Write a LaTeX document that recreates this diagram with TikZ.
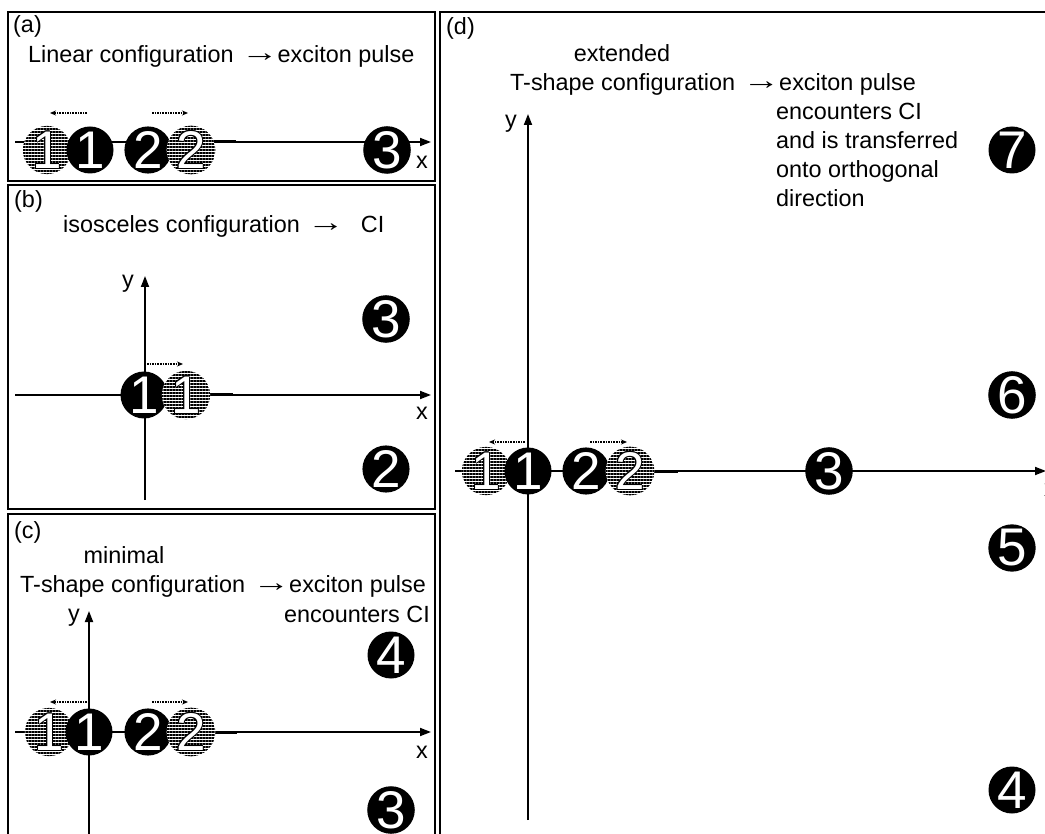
\documentclass[tikz,border=0pt]{standalone}
\usepackage{fontspec}
\usepackage{graphicx}
\setmainfont{Liberation Sans}
\usetikzlibrary{arrows.meta,patterns.meta}
\newcommand\olnum[1]{%
\makebox[0pt][l]{\kern-0.9pt\textcolor{black}{#1}}%
\makebox[0pt][l]{\kern0.9pt\textcolor{black}{#1}}%
\makebox[0pt][l]{\raisebox{0.9pt}{\textcolor{black}{#1}}}%
\makebox[0pt][l]{\raisebox{-0.9pt}{\textcolor{black}{#1}}}%
\makebox[0pt][l]{\kern0.65pt\raisebox{0.65pt}{\textcolor{black}{#1}}}%
\makebox[0pt][l]{\kern-0.65pt\raisebox{0.65pt}{\textcolor{black}{#1}}}%
\makebox[0pt][l]{\kern0.65pt\raisebox{-0.65pt}{\textcolor{black}{#1}}}%
\makebox[0pt][l]{\kern-0.65pt\raisebox{-0.65pt}{\textcolor{black}{#1}}}%
\textcolor{white}{#1}}
\newcommand\rarr{\kern14pt\makebox[24pt]{\raisebox{1pt}{\scalebox{1.6}[1.15]{→}}}\kern6pt}
\begin{document}
\begin{tikzpicture}[x=1pt,y=-1pt,
  frame/.style={draw=black,line width=1.8pt},
  axis/.style={line width=1.8pt,-{Triangle[length=11pt,width=8pt]}},
  stub/.style={line width=3pt},
  bead/.style={circle,fill=black,minimum size=47pt,inner sep=0pt,text=white,font=\fontsize{53}{53}\selectfont},
  hbead/.style={circle,preaction={fill=white},pattern={Lines[angle=0,distance=3pt,line width=1.6pt]},minimum size=47pt,inner sep=0pt,font=\fontsize{53}{53}\selectfont},
  lbl/.style={inner sep=0pt,font=\fontsize{23.4}{29}\selectfont},
  move/.style={line width=1.1pt,dash pattern=on 1.6pt off 1pt,-{Stealth[length=6pt,width=5pt]}}
]
\useasboundingbox (0,0) rectangle (1045,834);
\fill[white] (0,0) rectangle (1045,834);
% frames
\draw[frame] (8,12) rectangle (435,181);
\draw[frame] (8,185) rectangle (435,509);
\draw[frame] (8,514) rectangle (435,860);
\draw[frame] (440,12) rectangle (1070,860);

% ---------- (a)
\coordinate (ax0) at (15,142); \coordinate (ax1) at (431,142);
\draw[axis] (ax0) -- (ax1);
\coordinate (as0) at (213,142); \coordinate (as1) at (236,142);
\draw[stub] (as0) -- (as1);
\node[hbead] (ah1) at (47,150) {\olnum{1}};
\node[bead] (ab1) at (90,150) {1};
\node[bead] (ab2) at (148,150) {2};
\node[hbead] (ah2) at (191,150) {\olnum{2}};
\node[bead] (ab3) at (387,150) {3};
\node[lbl] (axl) at (422,162) {x};
\coordinate (am1s) at (87,113); \coordinate (am1e) at (50,113);
\coordinate (am2s) at (152,113); \coordinate (am2e) at (188,113);
\draw[move] (am1s) -- (am1e);
\draw[move] (am2s) -- (am2e);
\node[lbl,anchor=base west] (atag) at (13,33) {(a)};
\node[lbl,anchor=base west] (atxt) at (28,63) {Linear configuration\rarr exciton pulse};

% ---------- (b)
\coordinate (bx0) at (15,395); \coordinate (bx1) at (431,395);
\coordinate (by0) at (145,500); \coordinate (by1) at (145,276);
\draw[axis] (bx0) -- (bx1);
\draw[axis] (by0) -- (by1);
\coordinate (bs0) at (208,395); \coordinate (bs1) at (233,395);
\draw[stub] (bs0) -- (bs1);
\node[bead] (bb1) at (144,395) {1};
\node[hbead] (bh1) at (186,395) {\olnum{1}};
\node[bead] (bb3) at (386,319) {3};
\node[bead] (bb2) at (386,469) {2};
\node[lbl] (bxl) at (422,413) {x};
\node[lbl] (byl) at (128,284) {y};
\coordinate (bms) at (147,364); \coordinate (bme) at (183,364);
\draw[move] (bms) -- (bme);
\node[lbl,anchor=base west] (btag) at (14,208) {(b)};
\node[lbl,anchor=base west] (btxt) at (63,233) {isosceles configuration\rarr\kern17pt CI};

% ---------- (c)
\coordinate (cx0) at (15,732); \coordinate (cx1) at (431,732);
\coordinate (cy0) at (89,840); \coordinate (cy1) at (89,611);
\draw[axis] (cx0) -- (cx1);
\draw[axis] (cy0) -- (cy1);
\coordinate (cs0) at (213,732); \coordinate (cs1) at (237,732);
\draw[stub] (cs0) -- (cs1);
\node[hbead] (ch1) at (49,732) {\olnum{1}};
\node[bead] (cb1) at (89,732) {1};
\node[bead] (cb2) at (148,732) {2};
\node[hbead] (ch2) at (191,732) {\olnum{2}};
\node[bead] (cb4) at (391,655) {4};
\node[bead] (cb3) at (391,810) {3};
\node[lbl] (cxl) at (422,752) {x};
\node[lbl] (cyl) at (74,618) {y};
\coordinate (cm1s) at (87,702); \coordinate (cm1e) at (50,702);
\coordinate (cm2s) at (152,702); \coordinate (cm2e) at (188,702);
\draw[move] (cm1s) -- (cm1e);
\draw[move] (cm2s) -- (cm2e);
\node[lbl,anchor=base west] (ctag) at (14,538) {(c)};
\node[lbl,anchor=base] (cmin) at (124,563) {minimal};
\node[lbl,anchor=base west] (ctxt) at (20,592) {T-shape configuration\rarr exciton pulse};
\node[lbl,anchor=base east] (cenc) at (430,622) {encounters CI};

% ---------- (d)
\coordinate (dx0) at (455,471); \coordinate (dx1) at (1046,471);
\coordinate (dy0) at (528,820); \coordinate (dy1) at (528,114);
\draw[axis] (dx0) -- (dx1);
\draw[axis] (dy0) -- (dy1);
\coordinate (ds0) at (653,471); \coordinate (ds1) at (678,471);
\draw[stub] (ds0) -- (ds1);
\node[hbead] (dh1) at (486,471) {\olnum{1}};
\node[bead] (db1) at (528,471) {1};
\node[bead] (db2) at (586,471) {2};
\node[hbead] (dh2) at (630,471) {\olnum{2}};
\node[bead] (db3) at (829,471) {3};
\node[bead] (db7) at (1012,150) {7};
\node[bead] (db6) at (1012,395) {6};
\node[bead] (db5) at (1012,548) {5};
\node[bead] (db4) at (1012,790) {4};
\node[lbl] (dxl) at (1050,490) {x};
\node[lbl] (dyl) at (511,124) {y};
\coordinate (dm1s) at (525,442); \coordinate (dm1e) at (489,442);
\coordinate (dm2s) at (590,442); \coordinate (dm2e) at (627,442);
\draw[move] (dm1s) -- (dm1e);
\draw[move] (dm2s) -- (dm2e);
\node[lbl,anchor=base west] (dtag) at (446,35) {(d)};
\node[lbl,anchor=base] (dext) at (622,62) {extended};
\node[lbl,anchor=base west] (dtxt) at (510,91) {T-shape configuration\rarr exciton pulse};
\node[lbl,anchor=base west] (d1) at (776,120) {encounters CI};
\node[lbl,anchor=base west] (d2) at (776,149) {and is transferred};
\node[lbl,anchor=base west] (d3) at (776,178) {onto orthogonal};
\node[lbl,anchor=base west] (d4) at (776,207) {direction};
\end{tikzpicture}
\end{document}
